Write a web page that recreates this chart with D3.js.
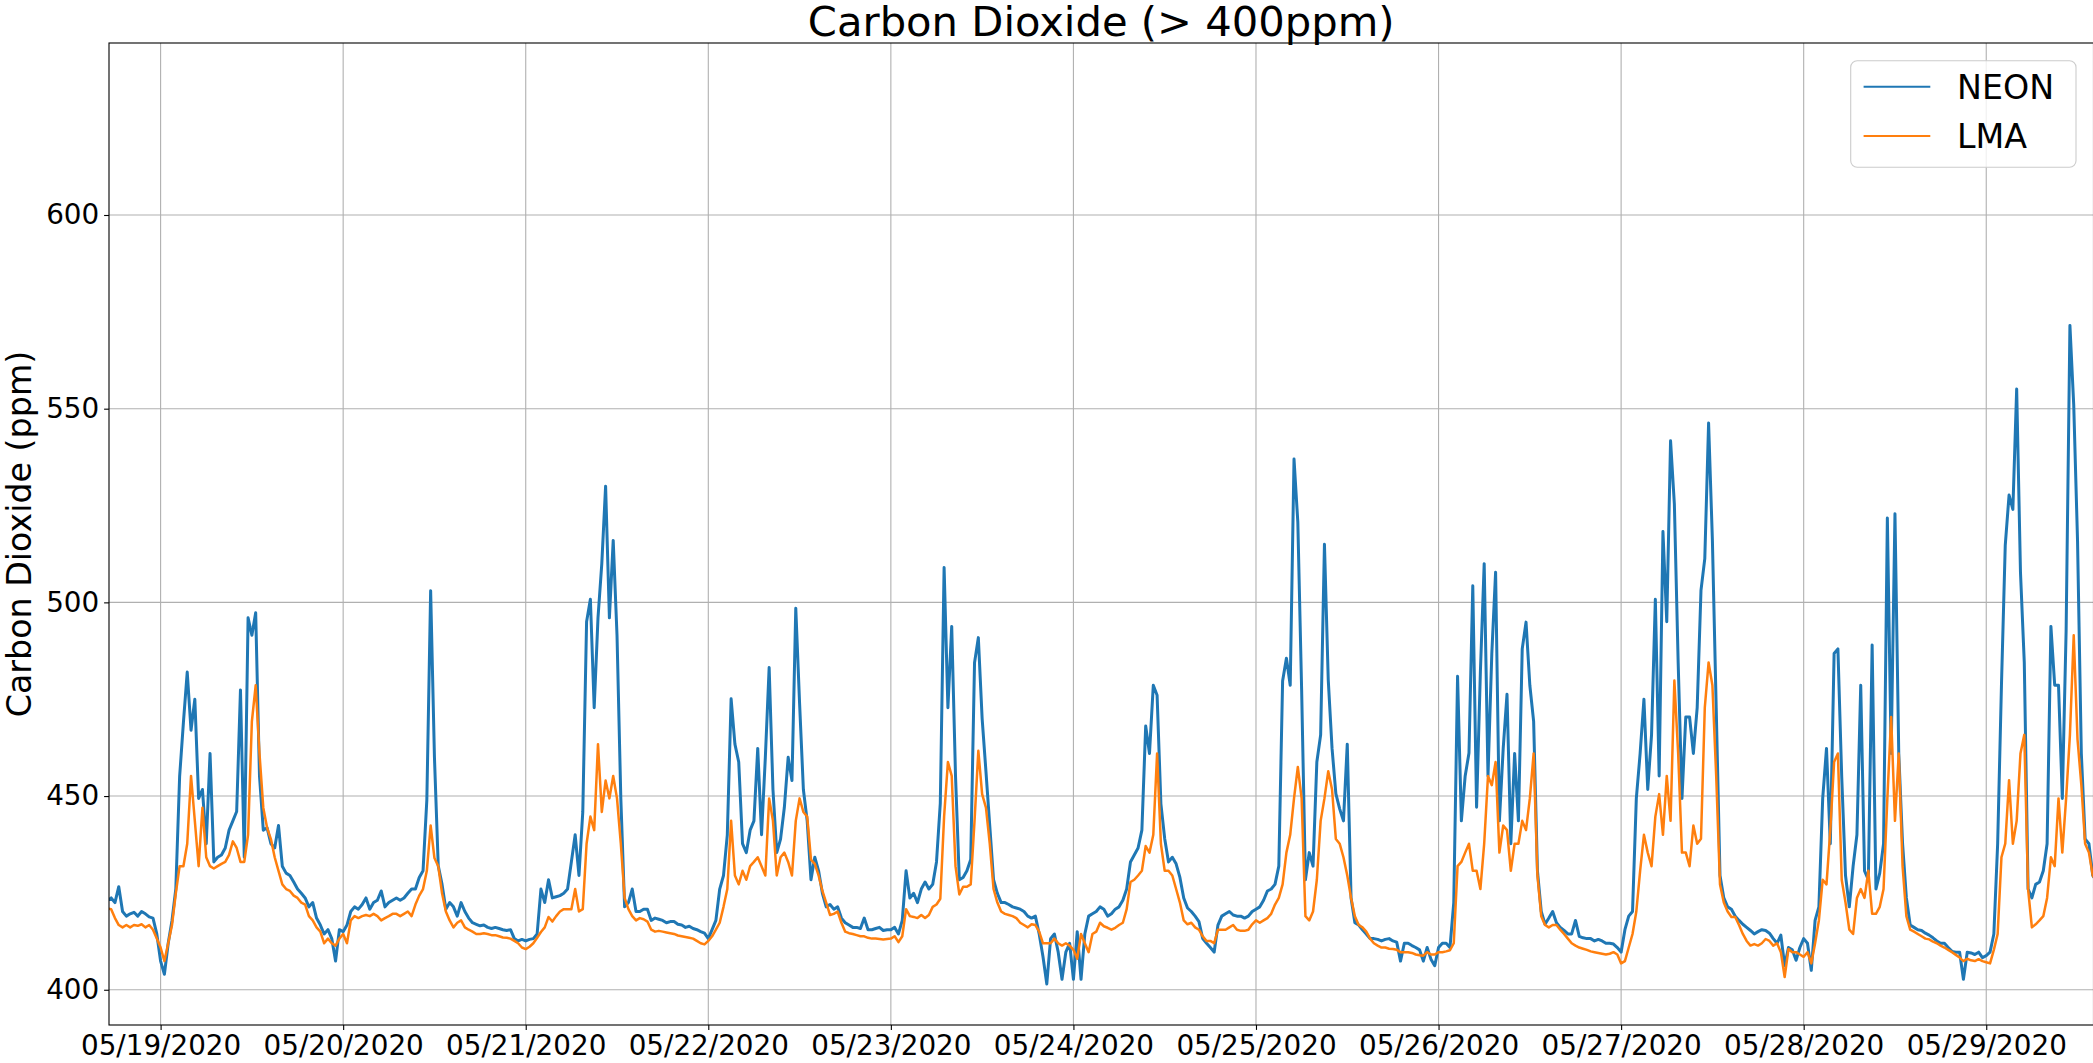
<!DOCTYPE html>
<html>
<head>
<meta charset="utf-8">
<script src="https://cdn.jsdelivr.net/npm/d3@7"></script>
<style>
  html, body { margin: 0; padding: 0; background: #ffffff; }
  svg { display: block; }
  text { font-family: "DejaVu Sans", sans-serif; }
</style>
</head>
<body>
<svg id="chart" width="2093" height="1063"></svg>
<script>
// ---------------- DATA ----------------
const seriesNames = ["NEON", "LMA"];
const seriesColors = ["#1f77b4", "#ff7f0e"];
const startTime = "2020-05-18T17:00:00Z";   // time of first sample
const stepMinutes = 30;                     // sample spacing

// NEON CO2 (ppm), one row = 12 hours of half-hourly samples
const neon = [
  423, 423.7, 422.5, 426.6, 420.2, 419, 419.6, 420, 419, 420.2, 419.6, 418.8, 418.5, 414.4, 407.4, 404, 412, 417.9, 426, 455, 469, 482, 467, 475,
  449.4, 451.7, 437.7, 461, 433, 434.2, 434.8, 436.6, 441.2, 443.6, 446, 477.4, 434.2, 496, 491.5, 497.3, 455.2, 441.2, 441.8, 437.7, 436.6, 442.4, 431.9, 430.1,
  429.5, 427.8, 426, 424.9, 423.7, 421.4, 422.5, 418.5, 416.7, 414.4, 415.5, 413.2, 407.4, 415.5, 415, 416.7, 420.2, 421.4, 420.8, 422, 423.7, 420.8, 422.5, 423.1,
  425.5, 421.4, 422.5, 423.1, 423.7, 423.1, 423.7, 424.9, 426, 426, 429, 430.7, 449, 503, 460, 432, 427.2, 420.8, 422.5, 421.4, 419, 422.5, 420.2, 418.5,
  417.3, 416.9, 416.5, 416.7, 416.1, 415.8, 416.1, 415.8, 415.5, 415.3, 415.5, 413.2, 412.6, 413, 412.6, 413, 413.2, 414.4, 426, 422.5, 428.4, 423.7, 424, 424.3,
  424.9, 426, 433, 440, 429.5, 445.9, 495, 500.8, 472.8, 496, 510, 530, 496, 516, 491.5, 449.4, 421.4, 422.5, 426, 420.2, 420.2, 420.8, 420.8, 417.9,
  418.5, 418.2, 417.9, 417.3, 417.6, 417.6, 416.9, 416.7, 416.1, 416.4, 415.8, 415.5, 415, 414.6, 413.2, 415.5, 417.9, 426, 429.5, 440, 475.1, 463.4, 458.8, 437.7,
  435.4, 441.2, 443.6, 462.3, 440, 460, 483.2, 451.7, 435.4, 438.9, 447.1, 460, 454, 498.5, 474, 451.7, 443.6, 428.4, 434.2, 430.7, 424.9, 421.4, 422, 420.8,
  421.4, 418.5, 417.3, 416.7, 416.1, 416.1, 415.8, 418.5, 415.5, 415.5, 415.8, 416.1, 415.3, 415.5, 415.5, 416.1, 414.4, 417.9, 430.7, 423.7, 424.9, 422.5, 426, 427.8,
  426, 427.2, 433, 448.2, 509, 472.8, 493.8, 455.2, 428.4, 429, 430.7, 433.6, 484.4, 490.9, 470, 456.4, 442.4, 428.4, 424.9, 422.5, 422.5, 422, 421.4, 421.1,
  420.8, 420.2, 419, 418.5, 419, 414.4, 408.5, 401.5, 413.2, 414.4, 409.7, 402.7, 409.7, 412, 402.7, 415, 402.7, 414.4, 419, 419.6, 420.2, 421.4, 420.8, 419,
  419.6, 420.8, 421.4, 423.1, 426, 433, 434.8, 436.6, 441.2, 468.1, 461, 478.6, 476, 448, 439, 433, 434.2, 432.5, 429, 423.7, 421.1, 420.2, 419, 417.6,
  413.2, 412, 410.9, 409.7, 416.7, 419, 419.6, 420.2, 419.3, 419, 419, 418.5, 419, 420.2, 420.8, 421.4, 423.1, 425.5, 426, 427.2, 431.9, 479.7, 485.6, 478.6,
  537, 520.7, 477.5, 428.4, 435.4, 431.9, 458.8, 465.8, 515, 480, 462.3, 450.6, 446.7, 443.6, 463.4, 423.7, 417.3, 416.7, 415.5, 414.4, 413.2, 413.2, 413, 412.6,
  413, 413.2, 412.6, 412.3, 407.4, 412, 412, 411.4, 410.9, 410.3, 407.4, 410.9, 407.9, 406.2, 410.9, 412, 412, 410.9, 422.5, 480.9, 443.6, 455.2, 461.1, 504.3,
  447.1, 482.1, 510, 455.2, 486.7, 507.8, 443.6, 462.3, 476.3, 437.7, 461, 443.6, 488, 494.9, 478.6, 469.3, 430.7, 420.2, 416.9, 418.5, 420.2, 417.3, 416.1, 415.3,
  414.4, 414.4, 417.9, 413.8, 413.4, 413.2, 413.2, 412.6, 413, 412.6, 412, 412, 411.8, 410.9, 409.7, 415.5, 419, 420.2, 449.4, 461, 475, 451.7, 465.8, 500.8,
  455.2, 518.3, 495, 541.7, 525.4, 484.5, 449.4, 470.4, 470.4, 461, 472.8, 503.1, 511.3, 546.3, 516, 472.8, 429.5, 423.7, 421.4, 420.8, 419, 417.9, 416.9, 416.1,
  415.3, 414.4, 415, 415.5, 415.3, 414.6, 413.2, 412, 414.1, 406.2, 410.9, 410.3, 407.6, 410.9, 413.2, 412, 405, 417.9, 421.4, 449.4, 462.3, 437.7, 486.8, 488,
  455, 429.5, 421.4, 431.9, 440, 478.6, 430.7, 428.4, 489, 426, 430.1, 437.7, 521.8, 461, 522.9, 461, 437.7, 423.7, 416.7, 416.1, 415.5, 415.3, 414.6, 414.1,
  413.4, 412.6, 412, 412, 410.9, 409.9, 409.7, 409.7, 402.7, 409.7, 409.5, 409.1, 409.7, 408.3, 408.8, 409.7, 414.4, 437.7, 478.6, 514.8, 527.7, 524, 555.1, 507.8,
  484.5, 426, 423.7, 427.2, 427.8, 430.7, 437.7, 493.8, 478.6, 478.6, 449.4, 492.6, 571.5, 551, 516, 461, 438.9, 437.7, 429.5, 428
];

// LMA CO2 (ppm), same sample times
const lma = [
  421, 420.8, 418.5, 416.7, 416.1, 416.7, 416.1, 416.7, 416.5, 416.9, 416.1, 416.7, 415.5, 413.2, 410.9, 407.4, 412, 416.7, 424.9, 431.9, 431.9, 437.7, 455.2, 443.6,
  431.9, 447, 434.2, 431.9, 431.3, 431.9, 432.5, 433, 434.8, 438.3, 436.6, 433, 433, 440, 469.3, 478.6, 461, 447, 441.8, 438.9, 434.2, 430.7, 427.2, 426,
  425.5, 424.3, 423.7, 422.5, 422, 419, 417.9, 416.1, 415, 412, 413.2, 412, 411.4, 413.2, 414.4, 412, 417.9, 419, 418.5, 419, 419.3, 419, 419.6, 419,
  417.9, 418.5, 419, 419.6, 419.6, 419, 419.6, 420.2, 419, 422, 424.3, 426, 430.7, 442.4, 434, 431.9, 424.9, 420.2, 417.9, 416.1, 417.3, 417.9, 416.1, 415.5,
  415, 414.4, 414.4, 414.6, 414.4, 414.1, 414.1, 413.8, 413.5, 413.4, 413.2, 412.6, 412, 410.9, 410.5, 411.1, 412, 413.4, 414.9, 416.1, 418.8, 417.6, 419, 420.2,
  420.8, 420.8, 420.8, 426, 420.2, 420.8, 437.7, 444.7, 441.2, 463.4, 445.9, 454, 449.4, 455.2, 449.4, 437.7, 423.7, 420.8, 419, 417.9, 418.5, 418.2, 417.6, 415.5,
  415, 415.2, 415, 414.8, 414.6, 414.4, 414, 413.8, 413.6, 413.4, 413.2, 412.6, 412, 411.7, 412.6, 413.8, 415.5, 417.3, 421.4, 426, 443.6, 429.5, 427.2, 430.7,
  428.4, 431.9, 433, 434.2, 431.9, 429.5, 449.4, 443.6, 429.5, 434.2, 435.4, 433, 429.5, 443.6, 449.4, 445.9, 444.7, 433.6, 432.5, 429.5, 425.5, 422.5, 419.3, 419.6,
  420.2, 417.3, 415, 414.6, 414.4, 414.1, 413.8, 413.8, 413.4, 413.2, 413.2, 413.1, 413, 413.1, 413.2, 413.8, 412.3, 413.8, 420.8, 419, 418.8, 418.5, 419.3, 418.5,
  419.3, 421.4, 422, 423.5, 444.7, 458.8, 455.2, 431.9, 424.6, 426.6, 426.6, 427.2, 443.6, 461.7, 450.5, 447, 437.7, 426, 422.5, 420.2, 419.6, 419.3, 419, 418.5,
  417.3, 416.7, 416.1, 416.9, 416.7, 415, 412, 412, 412, 413.2, 412, 411.4, 412, 411.4, 410.3, 408, 414.4, 412, 409.7, 414.4, 415, 417.3, 416.4, 416,
  415.5, 416, 416.7, 417.3, 420.8, 427.8, 428.4, 429.5, 430.7, 437.1, 435.4, 440, 461, 437.7, 430.7, 430.7, 429.5, 426, 422.5, 417.9, 416.9, 417.3, 416.1, 415.5,
  413.8, 412.6, 412.6, 412, 415.5, 415.5, 415.5, 416.1, 416.7, 415.5, 415.2, 415.2, 415.5, 416.9, 417.9, 417.3, 417.9, 418.5, 419.6, 422, 423.7, 427.2, 435.4, 440,
  449.4, 457.5, 449.4, 419, 417.9, 420.2, 428.4, 443.6, 449.4, 456.4, 451.7, 438.9, 437.7, 434.2, 429.5, 423.7, 419, 416.7, 416.1, 415, 413.2, 412, 411.4, 410.9,
  410.9, 410.6, 410.5, 410.3, 409.7, 409.7, 409.7, 409.5, 409.1, 408.9, 408.8, 409.7, 409.1, 409.1, 409.7, 409.7, 409.9, 410.2, 412, 431.9, 433, 435.4, 437.7, 430.7,
  430.7, 426, 437.7, 455.2, 452.8, 458.8, 435.4, 442.4, 441.2, 430.7, 437.7, 437.7, 443.6, 441.2, 449.4, 461, 429.5, 419, 416.7, 416.1, 416.7, 416.7, 415.5, 414.4,
  413.2, 412, 411.4, 410.9, 410.6, 410.3, 409.9, 409.7, 409.5, 409.3, 409.1, 409.3, 409.7, 409.1, 406.8, 407.4, 410.9, 414.4, 420.2, 430.7, 440, 435.4, 431.9, 444.7,
  450.5, 440, 455.2, 443.6, 479.8, 461, 435.4, 435.4, 431.9, 442.4, 437.7, 439, 472.8, 484.5, 478.6, 455.2, 427.2, 422.5, 420.2, 418.8, 418.8, 416.7, 414.4, 412.6,
  411.4, 411.8, 411.4, 412, 413.1, 412.6, 411.4, 412, 409.7, 403.3, 410.5, 409.7, 409.7, 409.1, 408.5, 409.7, 406.8, 412, 417.9, 428.4, 427.2, 441.2, 458.8, 461,
  428.4, 422.5, 415.5, 414.4, 423.7, 426, 423.7, 430.7, 419.6, 419.6, 421.4, 426, 449.4, 470.4, 443.6, 461, 431.9, 419, 415.5, 415, 414.4, 413.8, 413.2, 413,
  412.4, 412, 411.4, 410.9, 410.3, 409.7, 409, 408.3, 407.4, 408, 407.6, 407.4, 407.9, 407.4, 407.1, 406.8, 410.3, 414.4, 434.2, 437.7, 454.1, 437.7, 443.6, 461,
  465.8, 426, 416.1, 416.9, 417.9, 419, 423.7, 434.2, 431.9, 449.4, 435.4, 449.4, 465.8, 491.5, 464.6, 452.9, 437.7, 435.4, 429.5, 428
];

const yTicks = [400, 450, 500, 550, 600];
const xTickDates = ["2020-05-19", "2020-05-20", "2020-05-21", "2020-05-22", "2020-05-23",
                    "2020-05-24", "2020-05-25", "2020-05-26", "2020-05-27", "2020-05-28", "2020-05-29"];
const xDomain = ["2020-05-18T17:13:00Z", "2020-05-29T14:06:00Z"];
const yDomain = [390.9, 644.4];
const titleText = "Carbon Dioxide (> 400ppm)";
const yLabelText = "Carbon Dioxide (ppm)";

// ---------------- LAYOUT ----------------
const W = 2093, H = 1063;
const plot = { left: 109, right: 2093.5, top: 43, bottom: 1025 };
const seriesWidths = [3.0, 2.5];

const svg = d3.select("#chart");

const x = d3.scaleUtc()
  .domain(xDomain.map(d => new Date(d)))
  .range([plot.left, plot.right]);
const y = d3.scaleLinear()
  .domain(yDomain)
  .range([plot.bottom, plot.top]);

const t0 = new Date(startTime);
const timeAt = i => d3.utcMinute.offset(t0, i * stepMinutes);
const series = [neon, lma].map((vals, k) => ({
  name: seriesNames[k],
  color: seriesColors[k],
  width: seriesWidths[k],
  points: vals.map((v, i) => ({ t: timeAt(i), v }))
}));

const tickDates = xTickDates.map(d => new Date(d + "T00:00:00Z"));

// clip
svg.append("defs").append("clipPath").attr("id", "plotclip")
  .append("rect")
  .attr("x", plot.left).attr("y", plot.top)
  .attr("width", plot.right - plot.left).attr("height", plot.bottom - plot.top);

// grid
const grid = svg.append("g").attr("class", "grid");
grid.selectAll("line.gx").data(tickDates).enter().append("line")
  .attr("x1", d => x(d)).attr("x2", d => x(d))
  .attr("y1", plot.top).attr("y2", plot.bottom)
  .attr("stroke", "#b0b0b0").attr("stroke-width", 1.1);
grid.selectAll("line.gy").data(yTicks).enter().append("line")
  .attr("x1", plot.left).attr("x2", plot.right)
  .attr("y1", d => y(d)).attr("y2", d => y(d))
  .attr("stroke", "#b0b0b0").attr("stroke-width", 1.1);

// lines
const line = d3.line().x(d => x(d.t)).y(d => y(d.v));
const lines = svg.append("g").attr("clip-path", "url(#plotclip)");
series.forEach(s => {
  lines.append("path")
    .datum(s.points)
    .attr("fill", "none")
    .attr("stroke", s.color)
    .attr("stroke-width", s.width)
    .attr("stroke-linejoin", "round")
    .attr("stroke-linecap", "square")
    .attr("d", line);
});

// frame
svg.append("rect")
  .attr("x", plot.left).attr("y", plot.top)
  .attr("width", plot.right - plot.left).attr("height", plot.bottom - plot.top)
  .attr("fill", "none").attr("stroke", "#000").attr("stroke-width", 1.1);

// axes
const fmt = d3.utcFormat("%m/%d/%Y");
const xAxis = d3.axisBottom(x).tickValues(tickDates).tickFormat(fmt)
  .tickSize(4.9).tickPadding(4.9).tickSizeOuter(0);
const yAxis = d3.axisLeft(y).tickValues(yTicks).tickFormat(d3.format("d"))
  .tickSize(4.9).tickPadding(4.9).tickSizeOuter(0);

const gx = svg.append("g").attr("transform", `translate(0,${plot.bottom})`).call(xAxis);
const gy = svg.append("g").attr("transform", `translate(${plot.left},0)`).call(yAxis);
[gx, gy].forEach(g => {
  g.select(".domain").remove();
  g.selectAll(".tick line").attr("stroke", "#000").attr("stroke-width", 1.1);
  g.selectAll(".tick text")
    .attr("fill", "#000")
    .style("font-family", "'DejaVu Sans', sans-serif")
    .style("font-size", "27.8px");
});

// title
svg.append("text")
  .attr("x", (plot.left + plot.right) / 2).attr("y", 35.5)
  .attr("text-anchor", "middle")
  .style("font-size", "41.7px").attr("fill", "#000")
  .text(titleText);

// y label
svg.append("text")
  .attr("transform", `translate(31,${(plot.top + plot.bottom) / 2}) rotate(-90)`)
  .attr("text-anchor", "middle")
  .style("font-size", "33.3px").attr("fill", "#000")
  .text(yLabelText);

// legend
const lg = svg.append("g");
lg.append("rect")
  .attr("x", 1850.7).attr("y", 60.7).attr("width", 225.3).attr("height", 106.6)
  .attr("rx", 6.5).attr("ry", 6.5)
  .attr("fill", "#ffffff").attr("fill-opacity", 0.8)
  .attr("stroke", "#cccccc").attr("stroke-width", 1.1);
const legendRowY = [86.7, 136];
series.forEach((s, i) => {
  lg.append("line")
    .attr("x1", 1863.6).attr("x2", 1930.3)
    .attr("y1", legendRowY[i]).attr("y2", legendRowY[i])
    .attr("stroke", s.color).attr("stroke-width", 2.1);
  lg.append("text")
    .attr("x", 1957).attr("y", legendRowY[i] + 12.4)
    .style("font-size", "33.3px").attr("fill", "#000")
    .text(s.name);
});
</script>
</body>
</html>
